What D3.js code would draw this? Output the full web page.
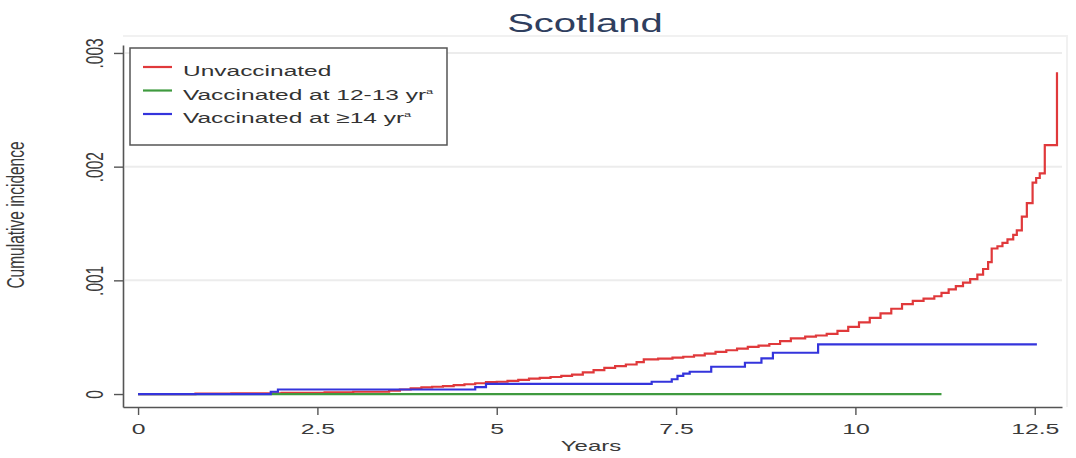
<!DOCTYPE html>
<html>
<head>
<meta charset="utf-8">
<script src="https://cdn.jsdelivr.net/npm/d3@7/dist/d3.min.js"></script>
<style>
  html, body { margin: 0; padding: 0; background: #ffffff; }
  svg { display: block; }
  text { font-family: "Liberation Sans", Arial, sans-serif; }
</style>
</head>
<body>
<svg id="chart" width="1076" height="458"></svg>
<script>
// Cumulative incidence by vaccination group, Scotland (Kaplan–Meier style step curves)
const chartTitle = "Scotland";
const xTitle = "Years";
const yTitle = "Cumulative incidence";

const xTicks = [0, 2.5, 5, 7.5, 10, 12.5];
const xTickLabels = ["0", "2.5", "5", "7.5", "10", "12.5"];
const yTicks = [0, 0.001, 0.002, 0.003];
const yTickLabels = ["0", ".001", ".002", ".003"];

const seriesNames = ["Unvaccinated", "Vaccinated at 12-13 yr", "Vaccinated at \u226514 yr"];
const seriesColors = ["#e0393b", "#3f9a3f", "#3434dc"];

// Unvaccinated
const unvaxYears = [0, 0.8, 1.3, 2.0, 2.6, 3.0, 3.5, 3.65, 3.8, 3.95, 4.1, 4.25, 4.4, 4.55, 4.7,
  4.85, 5.0, 5.15, 5.3, 5.45, 5.6, 5.75, 5.9, 6.05, 6.2, 6.35, 6.5, 6.65, 6.8, 6.95, 7.05, 7.25,
  7.45, 7.6, 7.75, 7.9, 8.05, 8.2, 8.35, 8.5, 8.65, 8.8, 8.95, 9.1, 9.3, 9.45, 9.6, 9.75, 9.9,
  10.05, 10.2, 10.35, 10.5, 10.65, 10.8, 10.95, 11.1, 11.2, 11.3, 11.4, 11.5, 11.6, 11.7, 11.78,
  11.85, 11.9, 11.98, 12.05, 12.12, 12.2, 12.25, 12.32, 12.39, 12.47, 12.52, 12.57, 12.64, 12.81];
const unvaxCI = [0, 0.000003, 0.000006, 0.00001, 0.000015, 0.00002, 0.00003, 0.00004, 0.00005,
  0.000058, 0.000064, 0.00007, 0.000078, 0.000086, 0.000095, 0.000104, 0.000108, 0.000115,
  0.000125, 0.000135, 0.000142, 0.00015, 0.00016, 0.00017, 0.00019, 0.00021, 0.00023, 0.000245,
  0.00026, 0.00028, 0.000305, 0.000312, 0.00032, 0.000328, 0.00034, 0.000355, 0.00037, 0.000385,
  0.0004, 0.000415, 0.000425, 0.00044, 0.000465, 0.00049, 0.000505, 0.000515, 0.00053, 0.000555,
  0.00059, 0.00063, 0.00067, 0.00071, 0.00075, 0.00079, 0.00082, 0.00084, 0.00086, 0.00089,
  0.00092, 0.00095, 0.00098, 0.00101, 0.00105, 0.0011, 0.00116, 0.00128, 0.0013, 0.00133,
  0.00136, 0.0014, 0.00144, 0.00156, 0.00168, 0.00186, 0.0019, 0.00194, 0.00219, 0.00283];

// Vaccinated at 12-13 years
const vax1213Years = [0, 11.2];
const vax1213CI = [0, 0];

// Vaccinated at 14 years or older
const vax14Years = [0, 1.85, 1.95, 4.7, 4.85, 7.16, 7.44, 7.52, 7.6, 7.69, 7.99, 8.46, 8.69,
  8.85, 9.48, 12.53];
const vax14CI = [0, 0.00002, 0.00004, 0.00006, 0.00009, 0.000108, 0.00013, 0.00016, 0.00018,
  0.000196, 0.00024, 0.000275, 0.000313, 0.000363, 0.000437, 0.000437];

const series = [
  { name: seriesNames[0], color: seriesColors[0], years: unvaxYears, ci: unvaxCI },
  { name: seriesNames[1], color: seriesColors[1], years: vax1213Years, ci: vax1213CI },
  { name: seriesNames[2], color: seriesColors[2], years: vax14Years, ci: vax14CI }
];

const SX = 1.6; // horizontal text stretch
const svg = d3.select("#chart");

const x = d3.scaleLinear().domain([-0.21, 12.88]).range([123, 1062]);
const y = d3.scaleLinear().domain([-0.000114, 0.00307]).range([407, 45]);

// plot region outline (faint)
svg.append("path")
  .attr("d", `M123,36 H1067 V407`)
  .attr("fill", "none").attr("stroke", "#f1f1f1").attr("stroke-width", 2);

// horizontal gridlines
svg.append("g").selectAll("line")
  .data(yTicks.filter(d => d > 0))
  .join("line")
  .attr("x1", 125).attr("x2", 1062)
  .attr("y1", d => y(d)).attr("y2", d => y(d))
  .attr("stroke", "#ececec").attr("stroke-width", 2);

// step curves
const line = d3.line()
  .x(d => x(d[0]))
  .y(d => y(d[1]))
  .curve(d3.curveStepAfter);

svg.append("g").selectAll("path")
  .data(series)
  .join("path")
  .attr("d", s => line(s.years.map((t, i) => [t, s.ci[i]])))
  .attr("fill", "none")
  .attr("stroke", s => s.color)
  .attr("stroke-width", 2.2)
  .attr("stroke-linejoin", "miter");

// x axis
const xAxis = svg.append("g")
  .attr("transform", "translate(0,407)")
  .call(d3.axisBottom(x).tickValues(xTicks)
    .tickFormat((d, i) => xTickLabels[i]).tickSize(8).tickSizeOuter(0));
xAxis.select(".domain").attr("stroke", "#555").attr("stroke-width", 1.6);
xAxis.selectAll(".tick line").attr("stroke", "#555").attr("stroke-width", 1.4);
xAxis.selectAll(".tick text")
  .attr("y", 27).attr("dy", 0)
  .attr("font-size", 15.5).attr("fill", "#3a3a3a")
  .attr("transform", `scale(${SX},1)`);

// y axis
const yAxis = svg.append("g")
  .attr("transform", "translate(123,0)")
  .call(d3.axisLeft(y).tickValues(yTicks)
    .tickFormat((d, i) => yTickLabels[i]).tickSize(9).tickSizeOuter(0));
yAxis.select(".domain").attr("stroke", "#555").attr("stroke-width", 1.6);
yAxis.selectAll(".tick line").attr("stroke", "#555").attr("stroke-width", 1.4);
yAxis.selectAll(".tick text")
  .attr("x", 0).attr("y", 0).attr("dy", 0)
  .attr("text-anchor", "middle")
  .attr("font-size", 15.5).attr("fill", "#3a3a3a")
  .attr("transform", `translate(-20,0) scale(${SX},1) rotate(-90)`);

// title
svg.append("text")
  .attr("transform", `translate(585,32) scale(${SX},1)`)
  .attr("text-anchor", "middle")
  .attr("font-size", 25)
  .attr("fill", "#2f3e5e")
  .text(chartTitle);

// axis titles
svg.append("text")
  .attr("transform", `translate(591,451) scale(${SX},1)`)
  .attr("text-anchor", "middle")
  .attr("font-size", 15)
  .attr("fill", "#3a3a3a")
  .text(xTitle);

svg.append("text")
  .attr("transform", `translate(24,215) scale(${SX},1) rotate(-90)`)
  .attr("text-anchor", "middle")
  .attr("font-size", 15.5)
  .attr("fill", "#3a3a3a")
  .text(yTitle);

// legend
const legend = svg.append("g");
legend.append("rect")
  .attr("x", 130).attr("y", 48).attr("width", 317).attr("height", 97)
  .attr("fill", "#ffffff").attr("stroke", "#555").attr("stroke-width", 1.5);

const rows = legend.selectAll("g.row")
  .data(series)
  .join("g")
  .attr("class", "row")
  .attr("transform", (d, i) => `translate(0,${i * 23.5})`);

rows.append("line")
  .attr("x1", 143).attr("x2", 172)
  .attr("y1", 67).attr("y2", 67)
  .attr("stroke", d => d.color).attr("stroke-width", 2.2);

const labels = rows.append("text")
  .attr("transform", `translate(183,76) scale(${SX},1)`)
  .attr("font-size", 15.3)
  .attr("fill", "#333");
labels.append("tspan").text(d => d.name);
labels.filter((d, i) => i > 0)
  .append("tspan")
  .attr("dy", -6)
  .attr("font-size", 8)
  .text("a");
</script>
</body>
</html>
